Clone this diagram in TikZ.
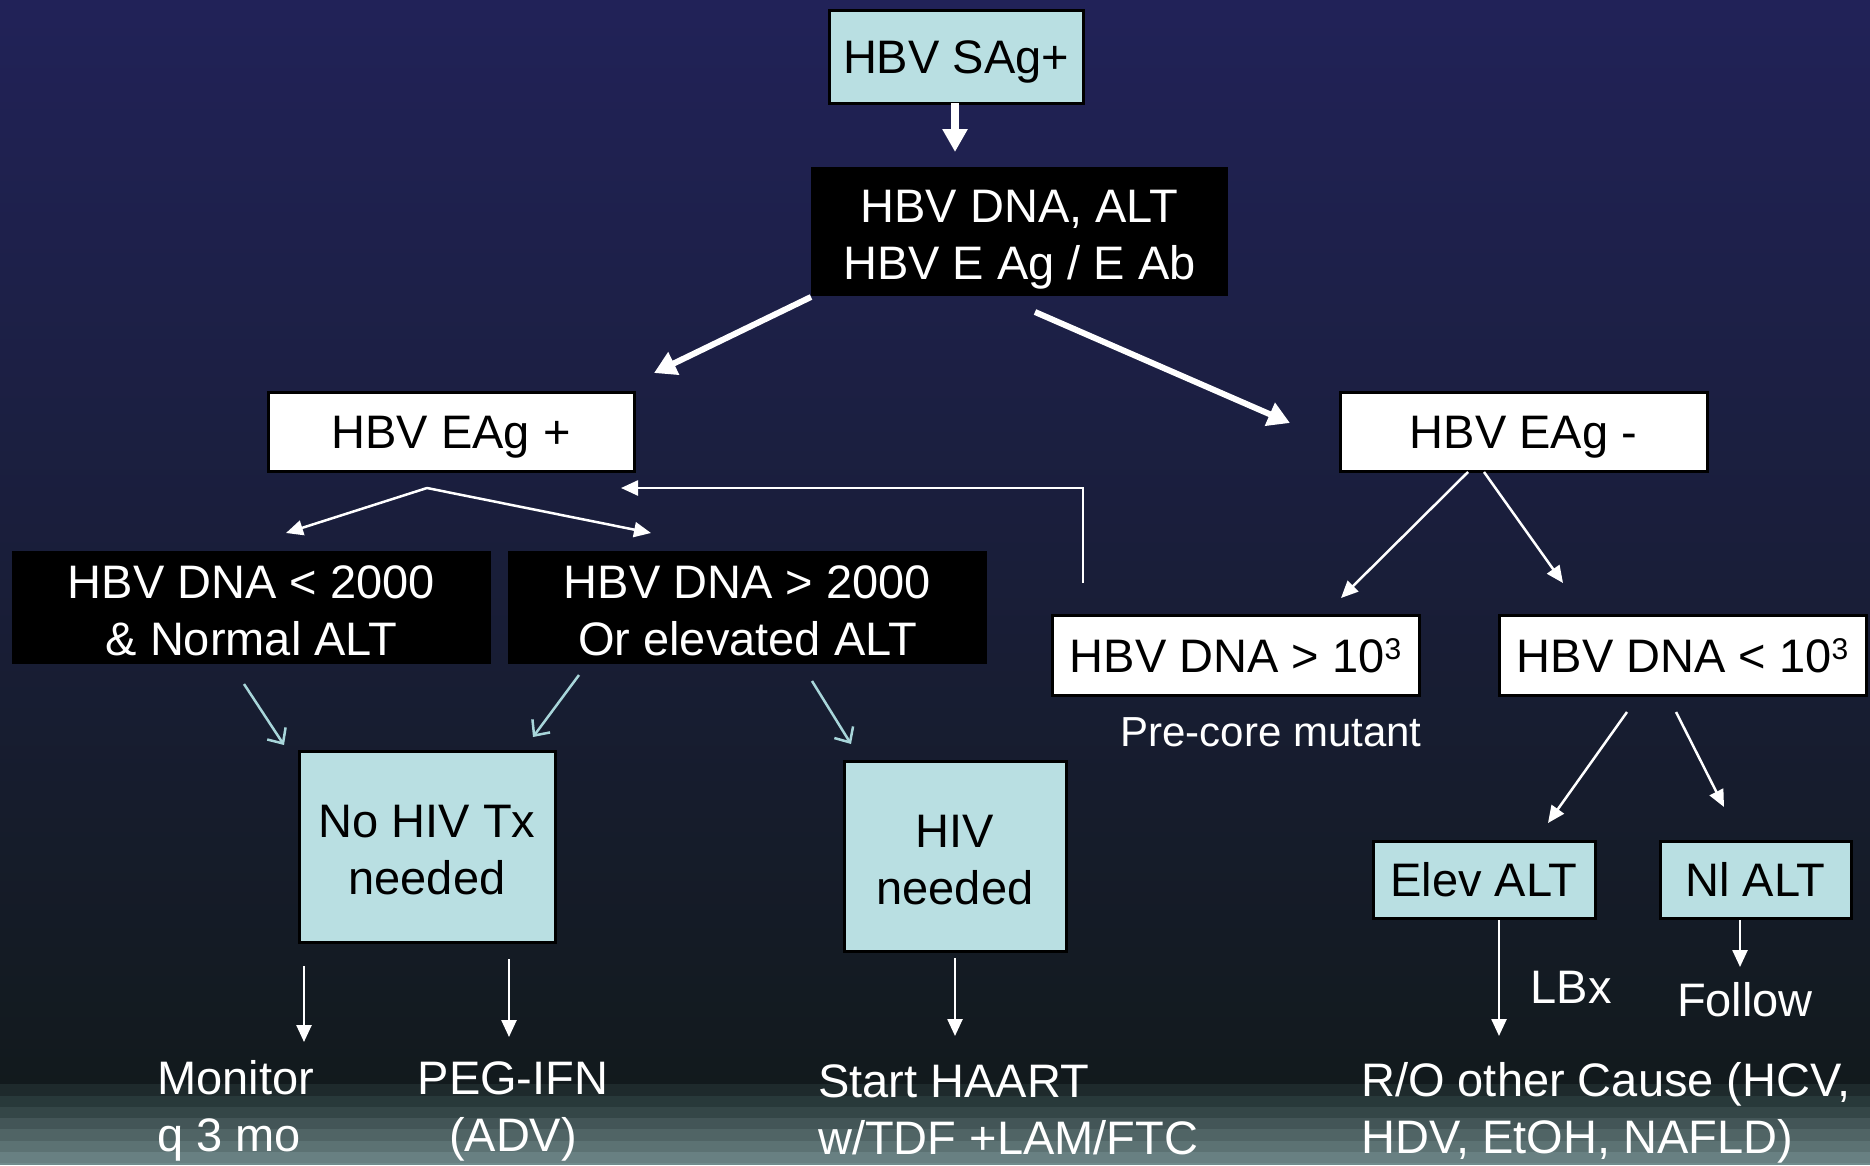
\documentclass[tikz,border=0pt]{standalone}
\usepackage{fontspec}
\setmainfont{Liberation Sans}
\usetikzlibrary{arrows.meta}
\definecolor{bgtop}{RGB}{33,34,88}
\definecolor{bgbot}{RGB}{18,26,29}
\definecolor{stA}{RGB}{30,42,44}
\definecolor{stB}{RGB}{40,57,58}
\definecolor{stC}{RGB}{52,70,71}
\definecolor{stD}{RGB}{67,85,87}
\definecolor{stE}{RGB}{80,100,101}
\definecolor{stF}{RGB}{92,114,115}
\definecolor{stG}{RGB}{104,128,130}
\definecolor{stH}{RGB}{112,140,141}
\definecolor{boxcyan}{RGB}{185,223,226}
\definecolor{lblue}{RGB}{168,214,218}
\newcommand{\twolines}[2]{\begin{tabular}[b]{@{}c@{}}#1\\#2\end{tabular}}
\newcommand{\supthree}{\raisebox{13pt}{\fontsize{30}{30}\selectfont 3}}
\begin{document}
\begin{tikzpicture}[x=1pt,y=-1pt,
  every node/.style={font=\fontsize{47}{57}\selectfont, inner sep=0pt},
  oneline/.style={text height=34pt, text depth=0pt},
  twoline/.style={text height=96pt, text depth=0pt},
  cyanbox/.style={draw=black, line width=3pt, fill=boxcyan, align=center},
  whitebox/.style={draw=black, line width=3pt, fill=white, align=center},
  blackbox/.style={fill=black, text=white, align=center},
  lbl/.style={text=white},
  fatarrow/.style={draw=white, line width=6pt, -{Triangle[length=22pt,width=24pt]}},
  fatterarrow/.style={draw=white, line width=8pt, -{Triangle[length=23pt,width=24pt]}},
  thinarrow/.style={draw=white, line width=2.5pt, -{Triangle[length=17pt,width=15pt]}},
  bluearrow/.style={draw=lblue, line width=2.5pt, -{Straight Barb[length=12pt,width=22pt]}}
]
% background
\path[use as bounding box] (0,0) rectangle (1870,1165);
\shade[top color=bgtop, bottom color=bgbot] (0,0) rectangle (1870,1084);
\fill[stA] (0,1084) rectangle (1870,1096);
\fill[stB] (0,1096) rectangle (1870,1107);
\fill[stC] (0,1107) rectangle (1870,1118);
\fill[stD] (0,1118) rectangle (1870,1129);
\fill[stE] (0,1129) rectangle (1870,1141);
\fill[stF] (0,1141) rectangle (1870,1152);
\fill[stG] (0,1152) rectangle (1870,1163);
\fill[stH] (0,1163) rectangle (1870,1165);

% boxes
\node[cyanbox, oneline, minimum width=254pt, minimum height=93pt] (sag) at (956,56.5) {HBV SAg+};
\node[blackbox, twoline, minimum width=417pt, minimum height=129pt] (dna) at (1019.5,231.5) {\twolines{HBV DNA, ALT}{HBV E Ag / E Ab}};
\node[whitebox, oneline, minimum width=366pt, minimum height=79pt] (eagp) at (451,431.5) {HBV EAg +};
\node[whitebox, oneline, minimum width=367pt, minimum height=79pt] (eagm) at (1523.5,431.5) {HBV EAg -};
\node[blackbox, twoline, minimum width=479pt, minimum height=113pt] (lo2000) at (251.5,607.5) {\twolines{HBV DNA < 2000}{\& Normal ALT}};
\node[blackbox, twoline, minimum width=479pt, minimum height=113pt] (hi2000) at (747.5,607.5) {\twolines{HBV DNA > 2000}{Or elevated ALT}};
\node[whitebox, oneline, minimum width=367pt, minimum height=80pt] (dnahi) at (1235.5,655) {HBV DNA > 10\supthree};
\node[whitebox, oneline, minimum width=367pt, minimum height=80pt] (dnalo) at (1682.5,655) {HBV DNA < 10\supthree};
\node[cyanbox, twoline, minimum width=256pt, minimum height=191pt] (notx) at (427,846.5) {\twolines{No HIV Tx}{needed}};
\node[cyanbox, twoline, minimum width=222pt, minimum height=190pt] (hiv) at (955,856) {\twolines{HIV}{needed}};
\node[cyanbox, oneline, minimum width=222pt, minimum height=77pt] (elev) at (1484,879.5) {Elev ALT};
\node[cyanbox, oneline, minimum width=191pt, minimum height=77pt] (nl) at (1755.5,879.5) {Nl ALT};

% labels
\node[lbl, font=\fontsize{42}{50}\selectfont] (precore) at (1271,732) {Pre-core mutant};
\node[lbl] (lbx) at (1571,987) {LBx};
\node[lbl] (follow) at (1745,1000) {Follow};
\node[lbl, align=left, anchor=west] (monitor) at (157,1111) {Monitor\\q 3 mo};
\node[lbl, align=center] (peg) at (513,1111) {PEG-IFN\\(ADV)};
\node[lbl, align=left, anchor=west] (haart) at (818,1110) {Start HAART\\w/TDF +LAM/FTC};
\node[lbl, align=left, anchor=west] (ro) at (1361,1113) {R/O other Cause (HCV,\\HDV, EtOH, NAFLD)};

% connector end points
\coordinate (sagS) at (955,103);
\coordinate (dnaN) at (955,152);
\coordinate (dnaL) at (811,297);
\coordinate (eagpT) at (654,373);
\coordinate (dnaR) at (1035,312);
\coordinate (eagmT) at (1290,423);
\coordinate (eagpS) at (427,488);
\coordinate (lo2000T) at (286,533);
\coordinate (hi2000T) at (651,533);
\coordinate (dnahiU) at (1083,583);
\coordinate (eagpR) at (621,488);
\coordinate (eagmSL) at (1468,472);
\coordinate (dnahiT) at (1341,598);
\coordinate (eagmSR) at (1484,472);
\coordinate (dnaloT) at (1563,583);
\coordinate (loS) at (244,684);
\coordinate (notxT1) at (284,745);
\coordinate (hiS1) at (579,675);
\coordinate (notxT2) at (533,737);
\coordinate (hiS2) at (812,681);
\coordinate (hivT) at (851,744);
\coordinate (notxS1) at (304,966);
\coordinate (monT) at (304,1042);
\coordinate (notxS2) at (509,959);
\coordinate (pegT) at (509,1037);
\coordinate (hivS) at (955,958);
\coordinate (haartT) at (955,1036);
\coordinate (dnaloSL) at (1627,712);
\coordinate (elevT) at (1548,823);
\coordinate (dnaloSR) at (1676,712);
\coordinate (nlT) at (1724,807);
\coordinate (elevS) at (1499,920);
\coordinate (roT) at (1499,1036);
\coordinate (nlS) at (1740,920);
\coordinate (followT) at (1740,967);

% connectors
\draw[fatterarrow] (sagS) -- (dnaN);
\draw[fatarrow] (dnaL) -- (eagpT);
\draw[fatarrow] (dnaR) -- (eagmT);
\draw[thinarrow] (eagpS) -- (lo2000T);
\draw[thinarrow] (eagpS) -- (hi2000T);
\draw[thinarrow] (dnahiU) |- (eagpR);
\draw[thinarrow] (eagmSL) -- (dnahiT);
\draw[thinarrow] (eagmSR) -- (dnaloT);
\draw[bluearrow] (loS) -- (notxT1);
\draw[bluearrow] (hiS1) -- (notxT2);
\draw[bluearrow] (hiS2) -- (hivT);
\draw[thinarrow] (notxS1) -- (monT);
\draw[thinarrow] (notxS2) -- (pegT);
\draw[thinarrow] (hivS) -- (haartT);
\draw[thinarrow] (dnaloSL) -- (elevT);
\draw[thinarrow] (dnaloSR) -- (nlT);
\draw[thinarrow] (elevS) -- (roT);
\draw[thinarrow] (nlS) -- (followT);
\end{tikzpicture}
\end{document}
